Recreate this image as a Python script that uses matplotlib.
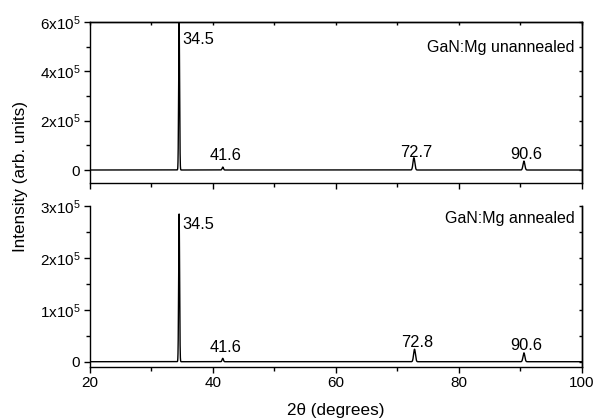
import numpy as np
import matplotlib
matplotlib.use("Agg")
import matplotlib.pyplot as plt
from matplotlib.ticker import MultipleLocator, FixedLocator

plt.rcParams['font.family'] = ['Liberation Sans', 'DejaVu Sans']
plt.rcParams['mathtext.default'] = 'regular'

# Peak positions (2theta, degrees), intensities and widths for each sample
unann_pos = [34.5, 41.6, 72.7, 90.6]
unann_int = [6.0e5, 0.12e5, 0.50e5, 0.36e5]
ann_pos = [34.5, 41.6, 72.8, 90.6]
ann_int = [2.84e5, 0.065e5, 0.24e5, 0.17e5]
peak_fwhm = [0.18, 0.25, 0.35, 0.35]

unann_labels = ["34.5", "41.6", "72.7", "90.6"]
ann_labels = ["34.5", "41.6", "72.8", "90.6"]
# baseline heights of the peak labels (data units)
unann_label_y = [5.11e5, 0.405e5, 0.54e5, 0.434e5]
ann_label_y = [2.55e5, 0.19e5, 0.29e5, 0.225e5]

top_yticks = [0, 2e5, 4e5, 6e5]
top_yticklabels = ["0", r"2x10$^5$", r"4x10$^5$", r"6x10$^5$"]
bot_yticks = [0, 1e5, 2e5, 3e5]
bot_yticklabels = ["0", r"1x10$^5$", r"2x10$^5$", r"3x10$^5$"]
xticks = [20, 40, 60, 80, 100]

two_theta = np.linspace(20, 100, 16001)


def pattern(pos, inten):
    y = np.zeros_like(two_theta)
    for p, a, w in zip(pos, inten, peak_fwhm):
        s = w / 2.3548
        y += a * np.exp(-0.5 * ((two_theta - p) / s) ** 2)
    return y


W, H = 594, 419
fig = plt.figure(figsize=(W / 100, H / 100), dpi=100)
left, width = 90 / W, (581.7 - 90) / W
ax1 = fig.add_axes([left, 1 - 183 / H, width, (183 - 22) / H])
ax2 = fig.add_axes([left, 1 - 366.7 / H, width, (366.7 - 205.7) / H])

TICK_FS = 11
ANN_FS = 11.8
LAB_FS = 11.5
AXIS_FS = 12.3


def style(ax, yticks, ylabels, ymin, ymax, minor_step, right_step, show_top):
    ax.set_xlim(20, 100)
    ax.set_ylim(ymin, ymax)
    for s in ax.spines.values():
        s.set_linewidth(1.0)
    ax.spines['top'].set_visible(show_top)
    ax.set_yticks(yticks)
    ax.set_yticklabels(ylabels, fontsize=TICK_FS)
    ax.yaxis.set_minor_locator(FixedLocator(np.arange(minor_step, ymax, 2 * minor_step)))
    ax.set_xticks(xticks)
    ax.xaxis.set_minor_locator(MultipleLocator(10))
    ax.tick_params(axis='both', which='major', direction='out', length=4.5, width=1,
                   labelsize=TICK_FS, top=False, right=False, pad=2.5)
    ax.tick_params(axis='both', which='minor', direction='out', length=2.8, width=1,
                   top=False, right=False)
    # inward ticks on the right side
    sec = ax.secondary_yaxis('right')
    sec.set_yticks(np.arange(0, ymax + 1, right_step))
    sec.tick_params(direction='in', length=2.5, width=1, labelright=False)
    sec.spines['right'].set_linewidth(1.0)
    if show_top:
        secx = ax.secondary_xaxis('top')
        secx.set_xticks(np.arange(20, 101, 10))
        secx.tick_params(direction='in', length=2, width=1, labeltop=False)
        secx.spines['top'].set_linewidth(1.0)


style(ax1, top_yticks, top_yticklabels, -0.527e5, 6e5, 1e5, 1e5, True)
style(ax2, bot_yticks, bot_yticklabels, -0.096e5, 3e5, 0.5e5, 0.5e5, False)
ax1.tick_params(labelbottom=False)
ax2.set_xticklabels([str(t) for t in xticks], fontsize=TICK_FS)

ax1.plot(two_theta, pattern(unann_pos, unann_int), color='black', lw=1.0)
ax2.plot(two_theta, pattern(ann_pos, ann_int), color='black', lw=1.0)


def peak_labels(ax, pos, labels, ys):
    ax.annotate(labels[0], (pos[0], ys[0]), xytext=(2.5, 0), textcoords='offset points',
                ha='left', va='baseline', fontsize=ANN_FS)
    for p, t, y in zip(pos[1:], labels[1:], ys[1:]):
        ax.annotate(t, (p, y), xytext=(2, 0), textcoords='offset points',
                    ha='center', va='baseline', fontsize=ANN_FS)


peak_labels(ax1, unann_pos, unann_labels, unann_label_y)
peak_labels(ax2, ann_pos, ann_labels, ann_label_y)

ax1.text(0.986, 0.815, "GaN:Mg unannealed", transform=ax1.transAxes, ha='right',
         va='baseline', fontsize=LAB_FS)
ax2.text(0.986, 0.89, "GaN:Mg annealed", transform=ax2.transAxes, ha='right',
         va='baseline', fontsize=LAB_FS)

fig.text(20.5 / W, 1 - 176.5 / H, "Intensity (arb. units)", rotation=90, ha='center',
         va='center', fontsize=AXIS_FS)
fig.text(335.8 / W, 1 - 410 / H, "2\u03b8 (degrees)", ha='center', va='center',
         fontsize=AXIS_FS)

fig.savefig("out.png", dpi=100)
